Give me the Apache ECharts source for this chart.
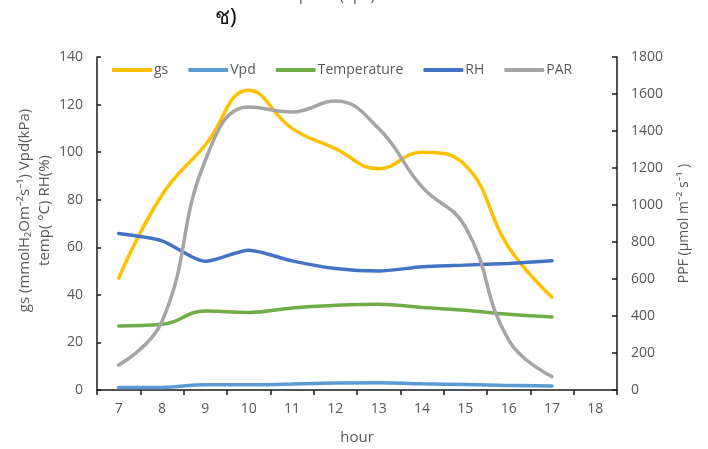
<!DOCTYPE html>
<html>
<head>
<meta charset="utf-8">
<script src="https://cdn.jsdelivr.net/npm/echarts@6/dist/echarts.min.js"></script>
<style>
  html, body { margin: 0; padding: 0; background: #fff; }
  #chart { width: 708px; height: 449px; }
</style>
</head>
<body>
<div id="chart"></div>
<script>
// Hourly readings, 7:00 to 17:00 (axis runs to 18)
const hours = ['7', '8', '9', '10', '11', '12', '13', '14', '15', '16', '17', '18'];
const gs = [47, 82, 103, 126, 110, 101.5, 93, 100, 94.5, 60, 39];
const vpd = [1.0, 1.1, 2.2, 2.2, 2.5, 2.9, 3.1, 2.6, 2.3, 1.9, 1.7];
const temperature = [26.9, 27.6, 33.2, 32.6, 34.5, 35.6, 36.1, 34.7, 33.5, 31.8, 30.7];
const rh = [65.8, 62.7, 54.1, 58.8, 54.3, 51.1, 50.0, 51.8, 52.5, 53.2, 54.3];
const par = [135, 370, 1242, 1530, 1503, 1562, 1413, 1098, 882, 270, 72];

const leftTicks = [0, 140, 20];
const rightTicks = [0, 1800, 200];

const font = '"Open Sans", "Noto Sans", sans-serif';
const grey = '#595959';
const axisColor = '#1a1a1a';

function lineSeries(name, data, color, yIndex, smooth) {
  return {
    name, type: 'line', data, yAxisIndex: yIndex,
    smooth: smooth, symbol: 'none',
    lineStyle: { color, width: 3.5, cap: 'round' },
    itemStyle: { color }
  };
}

const chart = echarts.init(document.getElementById('chart'), null, { renderer: 'canvas' });
chart.setOption({
  animation: false,
  backgroundColor: '#fff',
  textStyle: { fontFamily: font },
  grid: { left: 97, right: 91, top: 57, bottom: 59, outerBoundsMode: 'none', containLabel: false },
  legend: {
    left: 107, top: 58,
    icon: 'roundRect', itemWidth: 40, itemHeight: 4, itemGap: 20,
    textStyle: { color: grey, fontSize: 14, fontFamily: font, padding: [0, 0, 0, -3] },
    data: ['gs', 'Vpd', 'Temperature', 'RH', 'PAR']
  },
  xAxis: {
    type: 'category', data: hours, boundaryGap: true,
    name: 'hour', nameLocation: 'middle', nameGap: 40,
    nameTextStyle: { color: grey, fontSize: 15 },
    axisLine: { lineStyle: { color: axisColor, width: 1.5 } },
    axisTick: { show: true, length: 5, lineStyle: { color: axisColor, width: 1.5 } },
    axisLabel: { color: grey, fontSize: 14, margin: 12 },
    splitLine: { show: false }
  },
  yAxis: [
    {
      type: 'value', position: 'left',
      min: leftTicks[0], max: leftTicks[1], interval: leftTicks[2],
      name: 'gs (mmolH\u2082Om\u207B\u00B2s\u207B\u00B9) Vpd(kPa)\ntemp( \u00B0C) RH(%)',
      nameLocation: 'middle', nameRotate: 90, nameGap: 42, nameMoveOverlap: false,
      nameTextStyle: { color: grey, fontSize: 15, lineHeight: 20, align: 'center', padding: [0, 0, 0, 26] },
      axisLine: { show: true, lineStyle: { color: axisColor, width: 1.5 } },
      axisTick: { show: true, inside: true, length: 4, lineStyle: { color: axisColor, width: 1.5 } },
      axisLabel: { color: grey, fontSize: 14, margin: 14 },
      splitLine: { show: false }
    },
    {
      type: 'value', position: 'right',
      min: rightTicks[0], max: rightTicks[1], interval: rightTicks[2],
      name: 'PPF (\u00B5mol m\u207B\u00B2 s\u207B\u00B9 )',
      nameLocation: 'middle', nameRotate: 90, nameGap: 60,
      nameTextStyle: { color: grey, fontSize: 14 },
      axisLine: { show: true, lineStyle: { color: axisColor, width: 1.5 } },
      axisTick: { show: true, inside: true, length: 5, lineStyle: { color: axisColor, width: 1.5 } },
      axisLabel: { color: grey, fontSize: 14, margin: 14, formatter: v => String(v) },
      splitLine: { show: false }
    }
  ],
  graphic: [
    { type: 'text', left: 215, top: 7,
      style: { text: '\u0E0A)', fill: '#111', font: '22px "Noto Sans", "DejaVu Sans", sans-serif' } },
    { type: 'text', left: 290, top: -12,
      style: { text: 'Vpd air(Kpa)', fill: grey, font: '15px ' + font } }
  ],
  series: [
    lineSeries('gs', gs, '#FFC000', 0, 0.45),
    lineSeries('Vpd', vpd, '#5B9BD5', 0, 0.45),
    lineSeries('Temperature', temperature, '#70AD47', 0, 0.45),
    lineSeries('RH', rh, '#4472C4', 0, 0.25),
    lineSeries('PAR', par, '#A5A5A5', 1, 0.45)
  ]
});
</script>
</body>
</html>
